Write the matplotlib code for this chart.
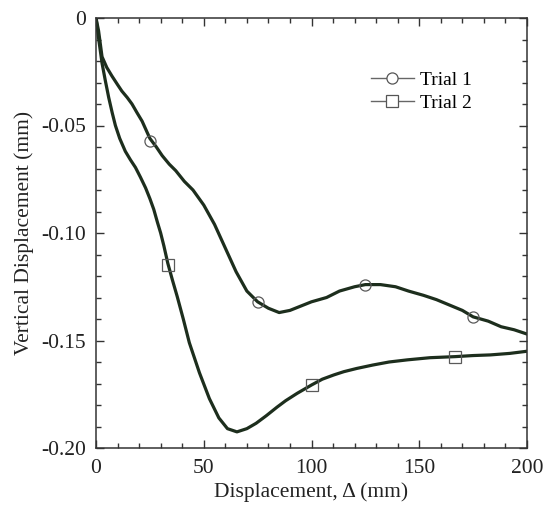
import matplotlib
matplotlib.use("Agg")
import matplotlib.pyplot as plt
from matplotlib.lines import Line2D
from matplotlib.ticker import MultipleLocator, FixedLocator

plt.rcParams['font.family'] = ['Liberation Serif', 'DejaVu Serif']
plt.rcParams['axes.unicode_minus'] = False

# Trial 1 (lateral displacement in mm, vertical displacement in mm)
trial1_x = [0, 1.2, 2.8, 5, 7.4, 10, 12, 14.5, 16.7, 19, 21.4, 25, 28, 30.7, 34,
            37, 41, 45, 50, 55, 60, 65, 70, 75, 80, 85, 90, 95, 100, 107, 113,
            120, 125, 132, 139, 145, 152, 158, 164, 170, 175, 182, 188, 194, 200]
trial1_y = [0, -0.006, -0.018, -0.023, -0.027, -0.031, -0.034, -0.037, -0.040,
            -0.044, -0.048, -0.056, -0.060, -0.064, -0.068, -0.071, -0.076,
            -0.080, -0.087, -0.096, -0.107, -0.118, -0.127, -0.132, -0.135,
            -0.137, -0.136, -0.134, -0.132, -0.130, -0.127, -0.125, -0.124,
            -0.124, -0.125, -0.127, -0.129, -0.131, -0.1335, -0.136, -0.139,
            -0.141, -0.1436, -0.145, -0.147]

# Trial 2
trial2_x = [0, 1, 2.8, 4.3, 5.9, 7.5, 9, 11, 13.6, 16, 18.3, 20.6, 23, 25, 26.8,
            28.5, 30, 31.5, 33.3, 35.5, 37.7, 40.5, 43.3, 48, 52.6, 57, 61, 65.4,
            70, 74.3, 79, 84, 88, 93.3, 100, 105, 110.4, 115, 121, 128.5, 136,
            144.5, 155, 166.7, 175, 183, 192, 200]
trial2_y = [0, -0.008, -0.021, -0.029, -0.037, -0.044, -0.050, -0.056, -0.062,
            -0.066, -0.0695, -0.074, -0.079, -0.084, -0.089, -0.095, -0.100,
            -0.106, -0.114, -0.122, -0.1296, -0.140, -0.151, -0.165, -0.177,
            -0.186, -0.191, -0.1925, -0.191, -0.1885, -0.185, -0.181, -0.178,
            -0.1746, -0.1707, -0.168, -0.166, -0.1645, -0.163, -0.1614, -0.160,
            -0.159, -0.158, -0.1575, -0.157, -0.1567, -0.156, -0.155]

# Marker locations on each trace
trial1_mark_x = [25, 75, 125, 175]
trial1_mark_y = [-0.057, -0.132, -0.124, -0.139]
trial2_mark_x = [33.3, 100, 166.7]
trial2_mark_y = [-0.115, -0.1707, -0.1575]

x_ticks = [0, 50, 100, 150, 200]
x_tick_labels = ['0', '50', '100', '150', '200']
y_ticks = [0, -0.05, -0.10, -0.15, -0.20]
y_tick_labels = ['0', '-0.05', '-0.10', '-0.15', '-0.20']

fig = plt.figure(figsize=(5.46, 5.18), dpi=100)
ax = fig.add_axes([96 / 546, 1 - 448 / 518, 431 / 546, 430 / 518])

line_col = '#1d2e1d'
mark_col = '#5a5a5a'

ax.plot(trial1_x, trial1_y, color=line_col, lw=2.3, solid_joinstyle='round')
ax.plot(trial2_x, trial2_y, color=line_col, lw=2.3, solid_joinstyle='round')
ax.plot(trial1_mark_x, trial1_mark_y, 'o', ms=8, mfc='none', mec=mark_col, mew=0.9)
ax.plot(trial2_mark_x, trial2_mark_y, 's', ms=8, mfc='none', mec=mark_col, mew=0.9)

ax.set_xlim(0, 200)
ax.set_ylim(-0.20, 0)
ax.xaxis.set_major_locator(FixedLocator(x_ticks))
ax.set_xticklabels(x_tick_labels)
ax.yaxis.set_major_locator(FixedLocator(y_ticks))
ax.set_yticklabels(y_tick_labels)
ax.xaxis.set_minor_locator(MultipleLocator(10))
ax.yaxis.set_minor_locator(MultipleLocator(0.01))
ax.tick_params(which='both', direction='in', top=True, right=True,
               colors='#333333', labelcolor='#222222', labelsize=15.5, width=1.0)
ax.tick_params(which='major', length=6)
ax.tick_params(axis='x', which='major', pad=8)
ax.tick_params(axis='y', which='major', pad=7)
ax.tick_params(which='minor', length=3.5)
for s in ax.spines.values():
    s.set_linewidth(1.1)
    s.set_color('#333333')

ax.set_xlabel('Displacement, Δ (mm)', fontsize=15.5, color='#222222', labelpad=3)
ax.set_ylabel('Vertical Displacement (mm)', fontsize=15.5, color='#222222', labelpad=5)

handles = [
    Line2D([], [], color='#666666', lw=1.0, marker='o', ms=8, mfc='white', mec='#555555', mew=0.9),
    Line2D([], [], color='#666666', lw=1.0, marker='s', ms=8, mfc='white', mec='#555555', mew=0.9),
]
ax.legend(handles, ['Trial 1', 'Trial 2'], loc='upper left', bbox_to_anchor=(0.62, 0.895),
          frameon=False, fontsize=14, handlelength=2.2, handletextpad=0.3,
          labelspacing=0.3, borderaxespad=0)

fig.savefig('out.png', dpi=100)
